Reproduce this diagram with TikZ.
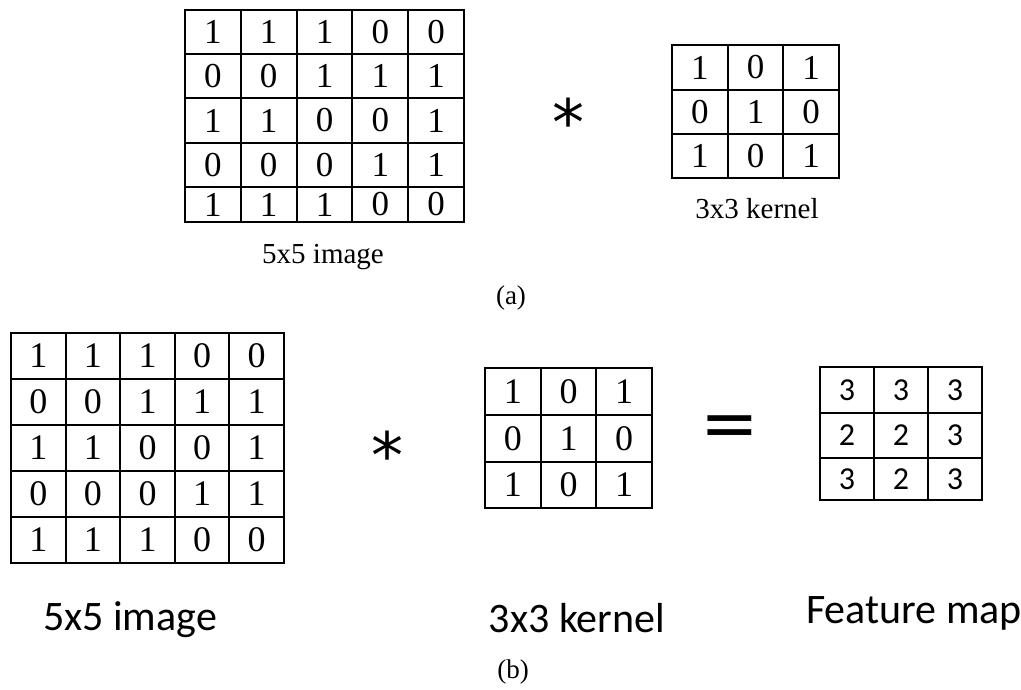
\documentclass[tikz,border=0pt]{standalone}
\usepackage{fontspec}
\setmainfont{Liberation Serif}
\newfontfamily\califont{Carlito}
\newfontfamily\djvfont{DejaVu Sans}
\tikzset{
  cellbox/.style={draw=black, line width=1.9pt, inner sep=0pt, outer sep=0pt},
  serifdig/.style={font=\fontsize{35}{35}\selectfont},
  serifdigb/.style={font=\fontsize{36}{36}\selectfont},
  sansdig/.style={font=\califont\fontsize{32}{32}\selectfont},
  toplabel/.style={anchor=base, inner sep=0pt, font=\fontsize{29}{29}\selectfont},
  botlabel/.style={anchor=base, inner sep=0pt, font=\califont\fontsize{42}{42}\selectfont},
  caplabel/.style={anchor=base, inner sep=0pt, font=\fontsize{27}{27}\selectfont},
  opsym/.style={inner sep=0pt, font=\djvfont\fontsize{64}{64}\selectfont},
}
% #1 name, #2 row, #3 x0, #4 cell width, #5 top y, #6 bottom y, #7 style, #8 values
\newcommand\gridrow[8]{%
  \foreach \v [count=\c] in {#8}{%
    \node[cellbox,#7,minimum width={#4*1pt},minimum height={(#6-#5)*1pt}]
      (#1-#2-\c) at ({#3+(\c-0.5)*#4},{(#5+#6)/2}) {\v};
  }%
}
\begin{document}
\begin{tikzpicture}[x=1pt,y=-1pt]
\useasboundingbox (0,0) rectangle (1021,689);
% (a) 5x5 image
\gridrow{ta}{1}{185}{55.8}{10}{54}{serifdig}{1,1,1,0,0}
\gridrow{ta}{2}{185}{55.8}{54}{98}{serifdig}{0,0,1,1,1}
\gridrow{ta}{3}{185}{55.8}{98}{143}{serifdig}{1,1,0,0,1}
\gridrow{ta}{4}{185}{55.8}{143}{187}{serifdig}{0,0,0,1,1}
\gridrow{ta}{5}{185}{55.8}{187}{222}{serifdig}{1,1,1,0,0}
\node[toplabel] (talab) at (323,263) {5x5 image};
% (a) operator
\node[opsym] (tstar) at (568,122) {*};
% (a) kernel
\gridrow{tk}{1}{672}{55.67}{45}{90}{serifdig}{1,0,1}
\gridrow{tk}{2}{672}{55.67}{90}{134}{serifdig}{0,1,0}
\gridrow{tk}{3}{672}{55.67}{134}{178}{serifdig}{1,0,1}
\node[toplabel] (tklab) at (757,218) {3x3 kernel};
\node[caplabel] (capa) at (511,304) {(a)};
% (b) 5x5 image
\gridrow{ba}{1}{11}{54.6}{333}{379}{serifdigb}{1,1,1,0,0}
\gridrow{ba}{2}{11}{54.6}{379}{425}{serifdigb}{0,0,1,1,1}
\gridrow{ba}{3}{11}{54.6}{425}{471}{serifdigb}{1,1,0,0,1}
\gridrow{ba}{4}{11}{54.6}{471}{517}{serifdigb}{0,0,0,1,1}
\gridrow{ba}{5}{11}{54.6}{517}{563}{serifdigb}{1,1,1,0,0}
\node[botlabel] (balab) at (130,630) {5x5 image};
% (b) operator
\node[opsym] (bstar) at (387,455) {*};
% (b) kernel
\gridrow{bk}{1}{485}{55.67}{368}{415}{serifdigb}{1,0,1}
\gridrow{bk}{2}{485}{55.67}{415}{462}{serifdigb}{0,1,0}
\gridrow{bk}{3}{485}{55.67}{462}{508}{serifdigb}{1,0,1}
\node[botlabel] (bklab) at (577,632) {3x3 kernel};
% equals
\node[opsym, font=\djvfont\fontsize{70}{70}\selectfont] (beq) at (730,432) {=};
% feature map
\gridrow{fm}{1}{820}{54}{367}{413}{sansdig}{3,3,3}
\gridrow{fm}{2}{820}{54}{413}{458}{sansdig}{2,2,3}
\gridrow{fm}{3}{820}{54}{458}{500}{sansdig}{3,2,3}
\node[botlabel] (fmlab) at (914,623) {Feature map};
\node[caplabel] (capb) at (513,678) {(b)};
\end{tikzpicture}
\end{document}
